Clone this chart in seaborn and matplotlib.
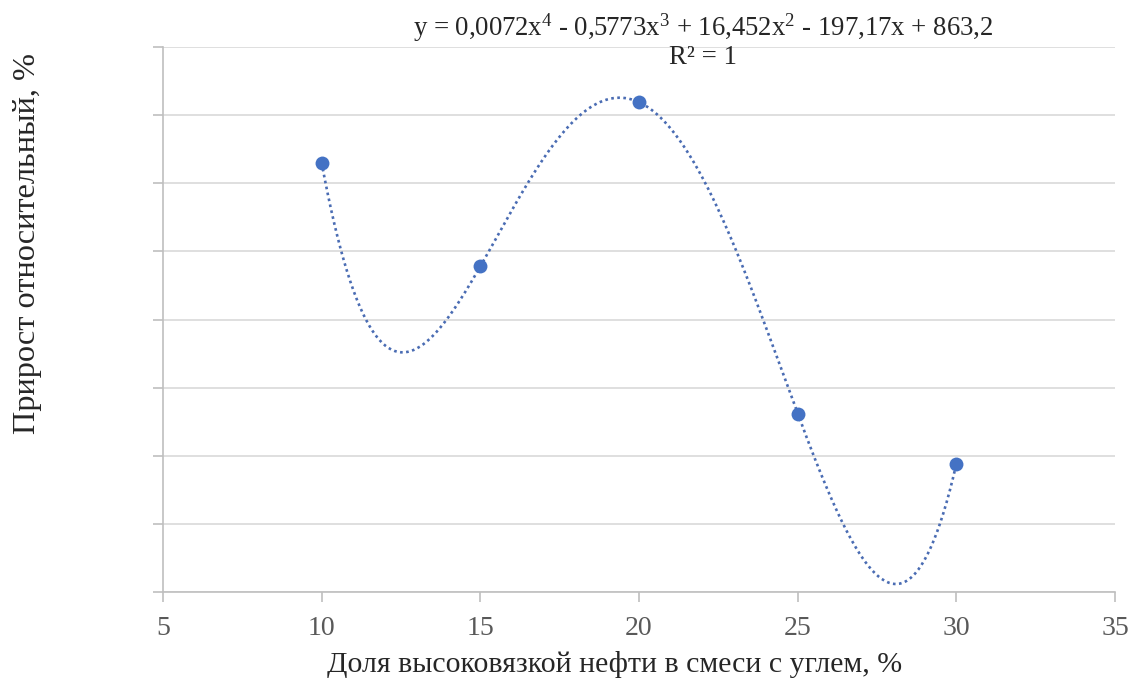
import numpy as np
import pandas as pd
import matplotlib
matplotlib.use("Agg")
import matplotlib.pyplot as plt
import seaborn as sns

# data
share = [10, 15, 20, 25, 30]
growth = [31.5, 23.9, 35.95, 13.1, 9.4]
x_ticks = [5, 10, 15, 20, 25, 30, 35]
y_ticks = [0, 5, 10, 15, 20, 25, 30, 35, 40]
equation = "y = 0,0072x$^4$ - 0,5773x$^3$ + 16,452x$^2$ - 197,17x + 863,2"
r2_text = "R² = 1"
x_label = "Доля высоковязкой нефти в смеси с углем, %"
y_label = "Прирост относительный, %"

sns.set_theme(style="white")
plt.rcParams['font.family'] = ['Liberation Serif', 'DejaVu Serif']
plt.rcParams['mathtext.fontset'] = 'custom'
plt.rcParams['mathtext.rm'] = 'Liberation Serif'
plt.rcParams['mathtext.it'] = 'Liberation Serif'

fig = plt.figure(figsize=(11.31, 6.87), dpi=100)
ax = fig.add_axes([163/1131, 1-592/687, (1115-163)/1131, (592-47)/687])

df = pd.DataFrame({"x": share, "y": growth})
# polynomial trend (degree 4) computed from the data
coef = np.polyfit(df["x"], df["y"], 4)
xs = np.linspace(min(share), max(share), 400)
trend = pd.DataFrame({"x": xs, "y": np.polyval(coef, xs)})

blue = "#4472C4"
sns.lineplot(data=trend, x="x", y="y", ax=ax, color="#4a6cb3", lw=1.9,
             linestyle=(0, (1, 1.3)), zorder=2)
sns.scatterplot(data=df, x="x", y="y", ax=ax, color=blue, s=100,
                edgecolor=blue, linewidth=0, zorder=3)

ax.set_xlim(5, 35)
ax.set_ylim(0, 40)
ax.set_xticks(x_ticks)
ax.set_yticks(y_ticks)
ax.set_yticklabels([])
ax.yaxis.grid(True, color="#d9d9d9", lw=1.2)
ax.xaxis.grid(False)
for s in ["top", "right"]:
    ax.spines[s].set_visible(False)
for s in ["left", "bottom"]:
    ax.spines[s].set_color("#bfbfbf")
    ax.spines[s].set_linewidth(1.2)
ax.tick_params(axis="both", direction="out", length=7, width=1.2,
               color="#bfbfbf", left=True, bottom=True)
ax.tick_params(axis="x", labelsize=20, labelcolor="#595959", pad=10)

ax.set_xlabel("")
ax.set_ylabel("")
fig.text(615/1131, 1-665/687, x_label, fontsize=21.5, color="#262626",
         ha="center", va="center")
fig.text(28/1131, 1-244/687, y_label, rotation=90, fontsize=23.3,
         color="#262626", ha="center", va="center")

fig.text(703/1131, 1-28/687, equation, fontsize=19.3, color="#262626",
         ha="center", va="center")
fig.text(703/1131, 1-57/687, r2_text, fontsize=19.3, color="#262626",
         ha="center", va="center")

fig.savefig("out.png", dpi=100, facecolor="white")
